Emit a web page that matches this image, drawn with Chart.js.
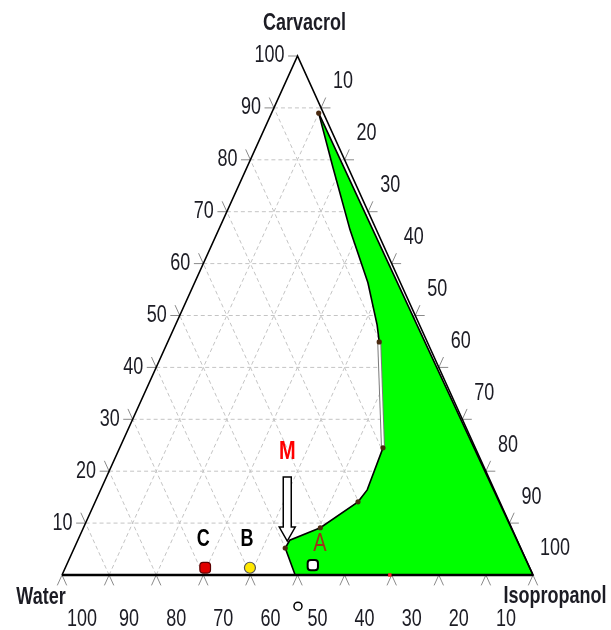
<!DOCTYPE html>
<html><head><meta charset="utf-8">
<script src="https://cdn.jsdelivr.net/npm/chart.js@4/dist/chart.umd.min.js"></script>
<style>html,body{margin:0;padding:0;background:#fff;overflow:hidden}#wrap{position:relative;width:611px;height:630px}</style>
</head><body><div id="wrap"><canvas id="c"></canvas></div>
<script>
// ---- data (percent compositions) ----
const carvacrolTicks = [10,20,30,40,50,60,70,80,90,100];
const isopropanolTicks = [10,20,30,40,50,60,70,80,90,100];
const waterTicks = [100,90,80,70,60,50,40,30,20,10];
const gridLevels = [10,20,30,40,50,60,70,80,90];
const edgeTickLevels = [0,10,20,30,40,50,60,70,80,90,100];
// binodal curve points (Carvacrol %, Isopropanol %; Water = remainder)
const binodalCarvacrol   = [89, 78.6, 66.5, 56.3, 48.2, 44.9, 24.5, 16.4, 14.1, 9.1, 6.7, 5.2, 0];
const binodalIsopropanol = [10, 18.2, 27.9, 36.8, 42.8, 44.9, 55.9, 56.6, 55.8, 50.3, 45.0, 44.8, 49.5];
const binodalMarked = [0, 5, 6, 8, 9, 11];
const tieFrom = 5, tieTo = 6;
// samples
const sampleNames = ['A','B','C'];
const sampleCarvacrol = [1.9, 1.4, 1.4];
const sampleIsopropanol = [52.3, 39.2, 29.7];
const mixtureName = 'M';
const mixtureCarvacrol = 5.2;
const mixtureIsopropanol = 44.8;
const baseMarkCarvacrol = [0];
const baseMarkIsopropanol = [69.6];
const openMarkCarvacrol = [-6];
const openMarkIsopropanol = [53.1];
const vertexNames = ['Carvacrol','Water','Isopropanol'];

// ---- helpers ----
const T = (c, i) => ({x: i + c / 2, y: c});
const gap = {x: 0, y: null};
function segs(list){ const out=[]; list.forEach((s,k)=>{ if(k) out.push(gap); out.push(s[0], s[1]); }); return out; }

const gridSegs = [];
gridLevels.forEach(k => {
  gridSegs.push([T(k,0), T(k,100-k)]);          // const carvacrol
  gridSegs.push([T(0,k), T(100-k,k)]);          // const isopropanol
  gridSegs.push([T(0,100-k), T(100-k,0)]);      // const water
});
const d = 2.0;
const tickSegs = [];
edgeTickLevels.forEach(k => {
  tickSegs.push([T(0,k), T(-d,k)]);
  tickSegs.push([T(0,k), T(-d,k+d)]);
  if (k>0){
    tickSegs.push([T(k,0), T(k,-d)]);
    if (k<100) tickSegs.push([T(k,0), T(k+d,-d)]);
  }
  if (k>0 && k<100){
    tickSegs.push([T(k,100-k), T(k,100-k+d)]);
    tickSegs.push([T(k,100-k), T(k+d,100-k)]);
  }
});

const binodal = binodalCarvacrol.map((c,i)=>T(c, binodalIsopropanol[i]));
const polygon = binodal.concat([T(0,100), T(binodalCarvacrol[0], binodalIsopropanol[0])]);
const POLY = 2;

const X0 = 62, PXU = 4.71, Y0 = 575, PYU = 5.19, W = 611, H = 630;
const xMin = -X0/PXU, xMax = (W-X0)/PXU, yMin = -(H-Y0)/PYU, yMax = Y0/PYU;

function sText(ctx, txt, x, y, font, color, align){
  ctx.save(); ctx.translate(x, y); ctx.scale(1, 1.3);
  ctx.font = font; ctx.fillStyle = color; ctx.textAlign = align || 'center'; ctx.textBaseline = 'middle';
  ctx.fillText(txt, 0, 0); ctx.restore();
}

const regionFill = {
  id: 'regionFill',
  beforeDatasetDraw(chart, args){
    if (args.index !== POLY) return;
    const pts = args.meta.data;
    const ctx = chart.ctx;
    ctx.save();
    ctx.beginPath();
    pts.forEach((p,i)=>{ if(i) ctx.lineTo(p.x,p.y); else ctx.moveTo(p.x,p.y); });
    ctx.closePath();
    ctx.fillStyle = '#00ff00';
    ctx.fill();
    ctx.restore();
  }
};

const labelPlugin = {
  id: 'ternaryLabels',
  afterDatasetsDraw(chart){
    const ctx = chart.ctx, xs = chart.scales.x, ys = chart.scales.y;
    const P = (c,i) => { const p = T(c,i); return [xs.getPixelForValue(p.x), ys.getPixelForValue(p.y)]; };
    const numFont = "18px 'Liberation Sans', Arial, sans-serif";
    const boldFont = "bold 18px 'Liberation Sans', Arial, sans-serif";
    const tc = '#1c1c24';
    carvacrolTicks.forEach(k => { const [x,y] = P(k,0); sText(ctx, String(k), x-13, y, numFont, tc, 'right'); });
    isopropanolTicks.forEach(k => { const [x,y] = P(100-k,k); sText(ctx, String(k), x+22, y-26, numFont, tc, 'center'); });
    waterTicks.forEach(k => { const [x,y] = P(0,100-k); sText(ctx, String(k), x+20, y+45, numFont, tc, 'center'); });
    let [x,y] = P(100,0); sText(ctx, vertexNames[0], x+7, y-32, boldFont, tc, 'center');
    [x,y] = P(0,0); sText(ctx, vertexNames[1], x-21, y+23, boldFont, tc, 'center');
    [x,y] = P(0,100); sText(ctx, vertexNames[2], x+22, y+22, boldFont, tc, 'center');
    const offs = [[7,-21],[-3,-28],[-2,-28]];
    const cols = ['#9a3418','#000','#000'];
    const fonts = ["20px 'Liberation Sans', Arial, sans-serif", boldFont, boldFont];
    sampleNames.forEach((n,i)=>{ const [sx,sy] = P(sampleCarvacrol[i], sampleIsopropanol[i]); sText(ctx, n, sx+offs[i][0], sy+offs[i][1], fonts[i], cols[i], 'center'); });
    const [mx,my] = P(mixtureCarvacrol, mixtureIsopropanol);
    const ax = mx+2, tip = my-7;
    ctx.save();
    ctx.beginPath();
    ctx.moveTo(ax-4, tip-64); ctx.lineTo(ax+4, tip-64); ctx.lineTo(ax+4, tip-14);
    ctx.lineTo(ax+8, tip-14); ctx.lineTo(ax, tip); ctx.lineTo(ax-8, tip-14); ctx.lineTo(ax-4, tip-14); ctx.closePath();
    ctx.fillStyle = '#fff'; ctx.fill(); ctx.lineWidth = 1.5; ctx.strokeStyle = '#000'; ctx.stroke();
    ctx.restore();
    sText(ctx, mixtureName, mx+2, my-96, "bold 20px 'Liberation Sans', Arial, sans-serif", '#ff0000', 'center');
  }
};

const data = {
  datasets: [
    { label:'grid', data: segs(gridSegs), borderColor:'#c4c4c4', borderWidth:1, borderDash:[4,3], pointRadius:0, fill:false, order:20 },
    { label:'ticks', data: segs(tickSegs), borderColor:'#8a8a8a', borderWidth:1, pointRadius:0, fill:false, order:19 },
    { label:'two-phase region', data: polygon, borderColor:'#000', borderWidth:1.6, fill:false, pointRadius:0, order:18,
      segment:{ borderColor: c => (c.p0DataIndex === tieFrom ? 'rgba(0,0,0,0)' : '#000') } },
    { label:'triangle', data:[T(0,0), T(100,0), T(0,100)], borderColor:'#000', borderWidth:1.6, pointRadius:0, fill:false, order:17 },
    { label:'base', data:[T(0,0), T(0,100)], borderColor:'#000', borderWidth:2.4, pointRadius:0, fill:false, order:16 },
    { label:'tie outline', data:[binodal[tieFrom], binodal[tieTo]], borderColor:'#7a7a7a', borderWidth:4, pointRadius:0, fill:false, order:15 },
    { label:'tie', data:[binodal[tieFrom], binodal[tieTo]], borderColor:'#ffffff', borderWidth:2, pointRadius:0, fill:false, order:14 },
    { label:'nodes', data: binodalMarked.map(i=>binodal[i]), showLine:false, pointRadius:2.6, pointBackgroundColor:'#4a2a10', pointBorderWidth:0, order:13 },
    { label:'base mark', data: baseMarkCarvacrol.map((c,i)=>T(c, baseMarkIsopropanol[i])), showLine:false, pointStyle:'rect', pointRadius:2.4, pointBackgroundColor:'#ff2020', pointBorderWidth:0, order:12 },
    { label:'open mark', data: openMarkCarvacrol.map((c,i)=>T(c, openMarkIsopropanol[i])), showLine:false, pointStyle:'circle', pointRadius:4, pointBackgroundColor:'#fff', pointBorderColor:'#000', pointBorderWidth:1.5, order:11 },
    { label:'samples', data: sampleCarvacrol.map((c,i)=>T(c, sampleIsopropanol[i])), showLine:false,
      pointStyle:['rectRounded','circle','rectRounded'], pointRadius:[6,5.5,6.2],
      pointBackgroundColor:['#ffffff','#ffe800','#e00000'], pointBorderColor:['#000','#555','#5a0000'], pointBorderWidth:[2,1.2,1.2], order:10 }
  ]
};

new Chart(document.getElementById('c'), {
  type:'line',
  data,
  options:{
    responsive:true, maintainAspectRatio:false, animation:false,
    layout:{padding:0, autoPadding:false},
    elements:{ line:{tension:0} },
    plugins:{ legend:{display:false}, tooltip:{enabled:false} },
    scales:{
      x:{ type:'linear', display:false, min:xMin, max:xMax },
      y:{ type:'linear', display:false, min:yMin, max:yMax }
    }
  },
  plugins:[regionFill, labelPlugin]
});
</script></body></html>
